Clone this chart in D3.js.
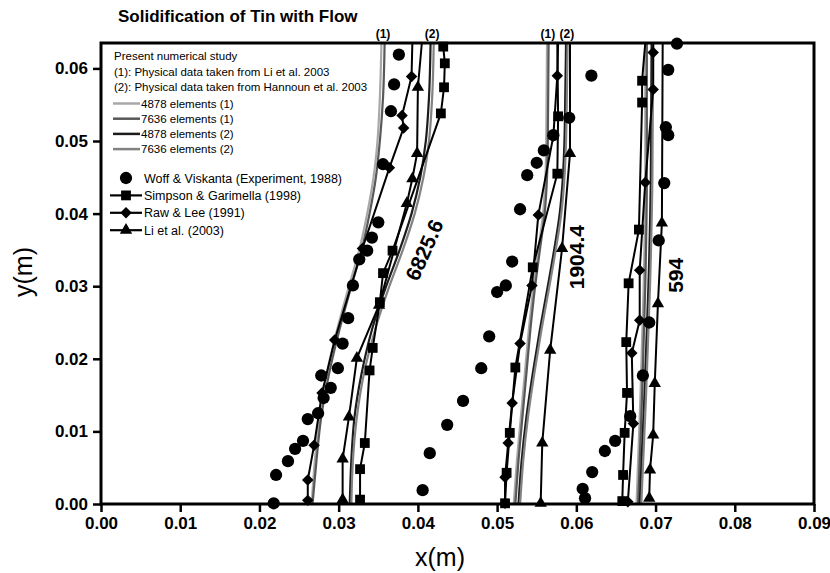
<!DOCTYPE html>
<html>
<head>
<meta charset="utf-8">
<script src="https://cdn.jsdelivr.net/npm/d3@7"></script>
<style>
  body { margin: 0; background: #fff; }
  text { font-family: "Liberation Sans", Arial, sans-serif; }
</style>
</head>
<body>
<div id="chart"></div>
<script>
// wall height of the cavity (m)
const cavityTop = 0.0635;

const xTicks = [0, 0.01, 0.02, 0.03, 0.04, 0.05, 0.06, 0.07, 0.08, 0.09];
const yTicks = [0, 0.01, 0.02, 0.03, 0.04, 0.05, 0.06];

// Wolff & Viskanta experiment, [x, y]
const wvRa6825 = [[0.0218,0.0001],[0.0221,0.0040],[0.0236,0.0059],[0.0245,0.0076],[0.0255,0.0087],[0.0261,0.0117],[0.0274,0.0125],[0.0281,0.0146],[0.0278,0.0177],[0.0290,0.0160],[0.0299,0.0187],[0.0305,0.0221],[0.0312,0.0256],[0.0318,0.0301],[0.0326,0.0337],[0.0336,0.0349],[0.0342,0.0367],[0.0350,0.0388],[0.0356,0.0468],[0.0366,0.0541],[0.0370,0.0578],[0.0376,0.0619]];
const wvRa1904 = [[0.0406,0.0019],[0.0415,0.0070],[0.0437,0.0109],[0.0457,0.0142],[0.0480,0.0187],[0.0490,0.0231],[0.0500,0.0292],[0.0511,0.0301],[0.0519,0.0334],[0.0529,0.0406],[0.0538,0.0453],[0.0550,0.0470],[0.0559,0.0487],[0.0571,0.0508],[0.0591,0.0532],[0.0619,0.0590]];
const wvRa594 = [[0.0611,0.0008],[0.0608,0.0021],[0.0620,0.0044],[0.0636,0.0073],[0.0649,0.0087],[0.0668,0.0121],[0.0684,0.0177],[0.0692,0.0250],[0.0704,0.0363],[0.0711,0.0442],[0.0716,0.0508],[0.0713,0.0519],[0.0716,0.0598],[0.0727,0.0634]];

// Simpson & Garimella
const sgRa6825 = [[0.0327,0.0006],[0.0327,0.0048],[0.0333,0.0084],[0.0339,0.0184],[0.0343,0.0215],[0.0352,0.0278],[0.0356,0.0318],[0.0368,0.0349],[0.0429,0.0538],[0.0433,0.0574],[0.0434,0.0607],[0.0432,0.0630]];
const sgRa1904 = [[0.0510,0.0001],[0.0512,0.0043],[0.0516,0.0098],[0.0523,0.0188],[0.0545,0.0326],[0.0576,0.0455],[0.0577,0.0534],[0.0576,0.0635]];
const sgRa594 = [[0.0658,0.0004],[0.0659,0.0040],[0.0661,0.0098],[0.0664,0.0153],[0.0663,0.0223],[0.0666,0.0304],[0.0679,0.0378],[0.0683,0.0553],[0.0683,0.0583],[0.0687,0.0635]];

// Raw & Lee
const rlRa6825 = [[0.0261,0.0005],[0.0261,0.0033],[0.0269,0.0081],[0.0279,0.0153],[0.0295,0.0226],[0.0330,0.0352],[0.0364,0.0463],[0.0382,0.0518],[0.0380,0.0535],[0.0392,0.0589],[0.0393,0.0635]];
const rlRa1904 = [[0.0510,0.0001],[0.0510,0.0037],[0.0514,0.0084],[0.0519,0.0139],[0.0529,0.0221],[0.0544,0.0301],[0.0552,0.0398],[0.0571,0.0507],[0.0576,0.0590],[0.0577,0.0635]];
const rlRa594 = [[0.0665,0.0003],[0.0672,0.0111],[0.0670,0.0208],[0.0680,0.0253],[0.0680,0.0322],[0.0687,0.0443],[0.0697,0.0571],[0.0697,0.0622],[0.0697,0.0635]];

// Li et al.
const liRa6825 = [[0.0305,0.0006],[0.0305,0.0062],[0.0313,0.0120],[0.0323,0.0201],[0.0351,0.0274],[0.0386,0.0414],[0.0393,0.0448],[0.0399,0.0483],[0.0400,0.0574],[0.0405,0.0635]];
const liRa1904 = [[0.0555,0.0001],[0.0557,0.0084],[0.0567,0.0212],[0.0582,0.0352],[0.0592,0.0483],[0.0592,0.0635]];
const liRa594 = [[0.0692,0.0008],[0.0693,0.0047],[0.0697,0.0095],[0.0699,0.0166],[0.0703,0.0276],[0.0708,0.0387],[0.0709,0.0635]];

// present numerical study: mesh size and physical data set
const num4878a6825 = [[0.0266,0],[0.0270,0.006],[0.0276,0.012],[0.0285,0.018],[0.0298,0.024],[0.0313,0.030],[0.0326,0.035],[0.0336,0.040],[0.0344,0.045],[0.0349,0.050],[0.0352,0.056],[0.0354,0.0635]];
const num7636a6825 = [[0.0267,0],[0.0272,0.006],[0.0278,0.012],[0.0288,0.018],[0.0301,0.024],[0.0316,0.030],[0.0329,0.035],[0.0339,0.040],[0.0347,0.045],[0.0352,0.050],[0.0356,0.056],[0.0358,0.0635]];
const num4878b6825 = [[0.0314,0],[0.0316,0.006],[0.0320,0.012],[0.0329,0.018],[0.0342,0.024],[0.0360,0.030],[0.0377,0.035],[0.0392,0.040],[0.0403,0.045],[0.0410,0.050],[0.0414,0.056],[0.0416,0.0635]];
const num7636b6825 = [[0.0316,0],[0.0318,0.006],[0.0323,0.012],[0.0332,0.018],[0.0346,0.024],[0.0364,0.030],[0.0381,0.035],[0.0396,0.040],[0.0407,0.045],[0.0414,0.050],[0.0418,0.056],[0.0420,0.0635]];

const num4878a1904 = [[0.0521,0],[0.0525,0.006],[0.0530,0.012],[0.0535,0.018],[0.0540,0.024],[0.0546,0.030],[0.0552,0.035],[0.0558,0.040],[0.0561,0.045],[0.0562,0.050],[0.0563,0.0635]];
const num7636a1904 = [[0.0523,0],[0.0527,0.006],[0.0532,0.012],[0.0537,0.018],[0.0542,0.024],[0.0548,0.030],[0.0554,0.035],[0.0560,0.040],[0.0563,0.045],[0.0564,0.050],[0.0565,0.0635]];
const num4878b1904 = [[0.0527,0],[0.0531,0.006],[0.0537,0.012],[0.0545,0.018],[0.0554,0.024],[0.0564,0.030],[0.0572,0.035],[0.0579,0.040],[0.0583,0.045],[0.0585,0.050],[0.0586,0.056],[0.0587,0.0635]];
const num7636b1904 = [[0.0529,0],[0.0533,0.006],[0.0539,0.012],[0.0547,0.018],[0.0556,0.024],[0.0566,0.030],[0.0574,0.035],[0.0581,0.040],[0.0585,0.045],[0.0587,0.050],[0.0588,0.056],[0.0589,0.0635]];

const num4878a594 = [[0.0676,0],[0.0681,0.015],[0.0685,0.030],[0.0687,0.045],[0.0687,0.0635]];
const num7636a594 = [[0.0678,0],[0.0683,0.015],[0.0687,0.030],[0.0689,0.045],[0.0689,0.0635]];
const num4878b594 = [[0.0680,0],[0.0686,0.015],[0.0691,0.030],[0.0694,0.045],[0.0695,0.0635]];
const num7636b594 = [[0.0682,0],[0.0688,0.015],[0.0693,0.030],[0.0696,0.045],[0.0697,0.0635]];

const legendNotes = ["Present numerical study", "(1): Physical data taken from Li et al. 2003", "(2): Physical data taken from Hannoun et al. 2003"];
const numLabels = ["4878 elements (1)", "7636 elements (1)", "4878 elements (2)", "7636 elements (2)"];
const refLabels = ["Woff & Viskanta (Experiment, 1988)", "Simpson & Garimella (1998)", "Raw & Lee (1991)", "Li et al. (2003)"];
const raLabels = ["6825.6", "1904.4", "594"];

const margin = {top: 43, right: 16, bottom: 69, left: 101};
const width = 830 - margin.left - margin.right;
const height = 573 - margin.top - margin.bottom;

const x = d3.scaleLinear().domain([0, 0.09]).range([0, width]);
const y = d3.scaleLinear().domain([0, cavityTop]).range([height, 0]);

const svg = d3.select("#chart")
    .append("svg")
        .attr("width", 830)
        .attr("height", 573)
    .append("g")
        .attr("transform", `translate(${margin.left}, ${margin.top})`);

const numColors = ["#a8a8a8", "#585858", "#1c1c1c", "#828282"];
const numSeries = [
    [num4878a6825, num4878a1904, num4878a594],
    [num7636a6825, num7636a1904, num7636a594],
    [num4878b6825, num4878b1904, num4878b594],
    [num7636b6825, num7636b1904, num7636b594]
];

const smooth = d3.line().x(d => x(d[0])).y(d => y(d[1])).curve(d3.curveMonotoneY);
const straight = d3.line().x(d => x(d[0])).y(d => y(d[1]));

// numerical curves
numSeries.forEach((runs, i) => {
    runs.forEach(run => {
        svg.append("path")
            .attr("d", smooth(run))
            .attr("fill", "none")
            .attr("stroke", numColors[i])
            .attr("stroke-width", 2.2);
    });
});

// marker shapes
const shapes = {
    circle: d3.symbol().type(d3.symbolCircle).size(118),
    square: d3.symbol().type(d3.symbolSquare).size(96),
    diamond: d3.symbol().type(d3.symbolSquare).size(66),
    triangle: d3.symbol().type(d3.symbolTriangle).size(66)
};
const rot = {circle: 0, square: 0, diamond: 45, triangle: 0};

function drawMarker(g, kind, px, py) {
    g.append("path")
        .attr("d", shapes[kind]())
        .attr("transform", `translate(${px},${py}) rotate(${rot[kind]})`)
        .attr("fill", "#000");
}

const refSeries = [
    {kind: "square", runs: [sgRa6825, sgRa1904, sgRa594]},
    {kind: "diamond", runs: [rlRa6825, rlRa1904, rlRa594]},
    {kind: "triangle", runs: [liRa6825, liRa1904, liRa594]}
];

refSeries.forEach(s => {
    s.runs.forEach(run => {
        svg.append("path")
            .attr("d", straight(run))
            .attr("fill", "none")
            .attr("stroke", "#000")
            .attr("stroke-width", 2);
        // points sitting on the top wall are only line ends
        run.filter(d => d[1] < cavityTop).forEach(d => drawMarker(svg, s.kind, x(d[0]), y(d[1])));
    });
});

[wvRa6825, wvRa1904, wvRa594].forEach(run => {
    run.forEach(d => drawMarker(svg, "circle", x(d[0]), y(d[1])));
});

// frame
svg.append("rect")
    .attr("width", width)
    .attr("height", height)
    .attr("fill", "none")
    .attr("stroke", "#000")
    .attr("stroke-width", 3);

// axes
const xAxis = svg.append("g")
    .attr("transform", `translate(0, ${height})`)
    .call(d3.axisBottom(x).tickValues(xTicks).tickFormat(d3.format(".2f")).tickSize(8).tickSizeOuter(0).tickPadding(5));
const yAxis = svg.append("g")
    .call(d3.axisLeft(y).tickValues(yTicks).tickFormat(d3.format(".2f")).tickSize(8).tickSizeOuter(0).tickPadding(5));

[xAxis, yAxis].forEach(a => {
    a.select(".domain").remove();
    a.selectAll(".tick line").attr("stroke", "#000").attr("stroke-width", 2.5);
    a.selectAll(".tick text")
        .attr("fill", "#000")
        .style("font-family", '"Liberation Sans", Arial, sans-serif')
        .style("font-size", "17px")
        .style("font-weight", "bold");
});

// title and axis labels
svg.append("text")
    .attr("x", 118 - margin.left)
    .attr("y", 22 - margin.top)
    .style("font-size", "17px")
    .style("font-weight", "bold")
    .text("Solidification of Tin with Flow");

svg.append("text")
    .attr("x", 440 - margin.left)
    .attr("y", 566 - margin.top)
    .attr("text-anchor", "middle")
    .style("font-size", "25px")
    .text("x(m)");

svg.append("text")
    .attr("transform", "rotate(-90)")
    .attr("x", -(272 - margin.top))
    .attr("y", 32 - margin.left)
    .attr("text-anchor", "middle")
    .style("font-size", "25px")
    .text("y(m)");

// (1) / (2) labels on top of the numerical curves
[0, 1].forEach(g => {
    [[0, 1, "(1)"], [2, 3, "(2)"]].forEach(([a, b, lab]) => {
        const ra = numSeries[a][g], rb = numSeries[b][g];
        const xm = (ra[ra.length - 1][0] + rb[rb.length - 1][0]) / 2;
        svg.append("text")
            .attr("x", x(xm))
            .attr("y", -5)
            .attr("text-anchor", "middle")
            .style("font-size", "12px")
            .style("font-weight", "bold")
            .text(lab);
    });
});

// Rayleigh number labels
const raPos = [[0.0408, 0.0350, -66], [0.0601, 0.0340, -90], [0.0725, 0.0315, -90]];
raLabels.forEach((t, i) => {
    const [px, py, ang] = raPos[i];
    svg.append("text")
        .attr("transform", `translate(${x(px)},${y(py)}) rotate(${ang})`)
        .attr("text-anchor", "middle")
        .attr("dy", "0.35em")
        .style("font-size", "21px")
        .style("font-weight", "bold")
        .text(t);
});

// legend
const leg = svg.append("g").attr("transform", `translate(${-margin.left}, ${-margin.top})`);
legendNotes.forEach((t, i) => {
    leg.append("text")
        .attr("x", 114)
        .attr("y", 60 + i * 15.5)
        .style("font-size", "11.5px")
        .text(t);
});
numLabels.forEach((t, i) => {
    const ly = 103.5 + i * 15.2;
    leg.append("line")
        .attr("x1", 113).attr("x2", 140)
        .attr("y1", ly).attr("y2", ly)
        .attr("stroke", numColors[i])
        .attr("stroke-width", 2.5);
    leg.append("text")
        .attr("x", 141)
        .attr("y", ly + 4)
        .style("font-size", "11.5px")
        .text(t);
});
const refKinds = ["circle", "square", "diamond", "triangle"];
refLabels.forEach((t, i) => {
    const ly = 178 + i * 17.4;
    if (i > 0) {
        leg.append("line")
            .attr("x1", 110).attr("x2", 142)
            .attr("y1", ly).attr("y2", ly)
            .attr("stroke", "#000")
            .attr("stroke-width", 2.2);
    }
    drawMarker(leg, refKinds[i], 126, ly);
    leg.append("text")
        .attr("x", 144)
        .attr("y", ly + 4.5)
        .style("font-size", "12.5px")
        .text(t);
});
</script>
</body>
</html>
